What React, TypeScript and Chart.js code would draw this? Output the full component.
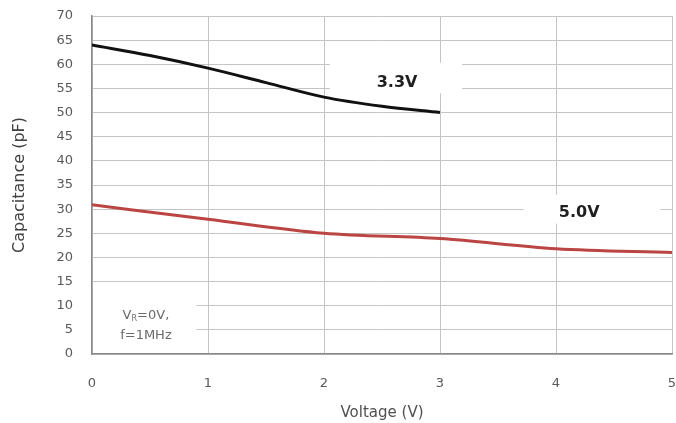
import React, { useEffect, useRef } from "react";
import { Chart, registerables } from "chart.js";

Chart.register(...registerables);

const voltage33 = [0, 0.5, 1, 1.5, 2, 2.5, 3];
const cap33 = [64, 61.8, 59.2, 56.2, 53.2, 51.3, 50];
const voltage50 = [0, 1, 2, 3, 4, 5];
const cap50 = [30.9, 27.9, 25, 23.9, 21.8, 21];
const xTicks = [0, 1, 2, 3, 4, 5];
const yTicks = [0, 5, 10, 15, 20, 25, 30, 35, 40, 45, 50, 55, 60, 65, 70];

const seriesNames = ["3.3V", "5.0V"];
const noteLines = ["V|R|=0V,", "f=1MHz"];

const FONT = "'DejaVu Sans', Verdana, sans-serif";

const boxesPlugin = {
  id: "boxes",
  beforeDatasetsDraw(chart: any) {
    const { ctx, scales, chartArea } = chart;
    const xs = scales.x;
    const ys = scales.y;
    ctx.save();
    ctx.fillStyle = "#ffffff";
    const boxes = [
      [2.05, 3.19, 60.3, 54.0],
      [3.72, 4.9, 33.0, 27.0],
    ];
    for (const b of boxes) {
      const x1 = xs.getPixelForValue(b[0]);
      const x2 = xs.getPixelForValue(b[1]);
      const y1 = ys.getPixelForValue(b[2]);
      const y2 = ys.getPixelForValue(b[3]);
      ctx.fillRect(x1, y1, x2 - x1, y2 - y1);
    }
    const nx2 = xs.getPixelForValue(0.9);
    const ny1 = ys.getPixelForValue(11.5);
    ctx.fillRect(chartArea.left + 1, ny1, nx2 - chartArea.left - 1, chartArea.bottom - 1 - ny1);
    ctx.restore();
  },
  afterDatasetsDraw(chart: any) {
    const { ctx, scales } = chart;
    const xs = scales.x;
    const ys = scales.y;
    ctx.save();
    ctx.font = `bold 16px ${FONT}`;
    ctx.fillStyle = "#1f1f1f";
    ctx.textAlign = "center";
    ctx.textBaseline = "middle";
    ctx.fillText(seriesNames[0], xs.getPixelForValue(2.63), ys.getPixelForValue(56.1));
    ctx.fillText(seriesNames[1], xs.getPixelForValue(4.2), ys.getPixelForValue(29.2));

    const cx = xs.getPixelForValue(0.465);
    ctx.fillStyle = "#6a6a6a";
    const y1 = ys.getPixelForValue(7.9);
    const y2 = ys.getPixelForValue(3.9);
    const parts = noteLines[0].split("|");
    const big = `13px ${FONT}`;
    const small = `8px ${FONT}`;
    ctx.font = big;
    const w0 = ctx.measureText(parts[0]).width;
    const w2 = ctx.measureText(parts[2]).width;
    ctx.font = small;
    const w1 = ctx.measureText(parts[1]).width;
    let sx = cx - (w0 + w1 + w2) / 2;
    ctx.textAlign = "left";
    ctx.font = big;
    ctx.fillText(parts[0], sx, y1);
    sx += w0;
    ctx.font = small;
    ctx.fillText(parts[1], sx, y1 + 3);
    sx += w1;
    ctx.font = big;
    ctx.fillText(parts[2], sx, y1);
    ctx.textAlign = "center";
    ctx.fillText(noteLines[1], cx, y2);
    ctx.restore();
  },
};

export default function App() {
  const ref = useRef<HTMLCanvasElement | null>(null);
  useEffect(() => {
    document.body.style.margin = "0";
    const c = ref.current!;
    const chart = new Chart(c, {
      type: "line",
      data: {
        datasets: [
          {
            label: seriesNames[0],
            data: voltage33.map((v, i) => ({ x: v, y: cap33[i] })),
            borderColor: "#111111",
            borderWidth: 3,
            pointRadius: 0,
            cubicInterpolationMode: "monotone",
          },
          {
            label: seriesNames[1],
            data: voltage50.map((v, i) => ({ x: v, y: cap50[i] })),
            borderColor: "#bb4542",
            borderWidth: 3,
            pointRadius: 0,
            cubicInterpolationMode: "monotone",
          },
        ],
      },
      options: {
        responsive: false,
        animation: false,
        layout: { padding: { top: 16, right: 4, left: 0, bottom: 0 } },
        plugins: { legend: { display: false }, tooltip: { enabled: false } },
        scales: {
          x: {
            type: "linear",
            min: 0,
            max: 5,
            afterBuildTicks: (s: any) => {
              s.ticks = xTicks.map((v) => ({ value: v }));
            },
            afterFit: (s: any) => {
              s.height = 69;
              s.paddingLeft = 0;
              s.paddingRight = 0;
            },
            ticks: {
              padding: 22,
              color: "#595959",
              font: { family: FONT, size: 13 },
              maxRotation: 0,
            },
            grid: { color: "#c4c4c4", lineWidth: 1, drawTicks: false },
            border: { color: "#8a8a8a", width: 1.5 },
            title: {
              display: true,
              text: "Voltage (V)",
              color: "#505050",
              font: { family: FONT, size: 15 },
              padding: { top: 4, bottom: 1 },
            },
          },
          y: {
            type: "linear",
            min: 0,
            max: 70,
            afterBuildTicks: (s: any) => {
              s.ticks = yTicks.map((v) => ({ value: v }));
            },
            afterFit: (s: any) => {
              s.width = 92;
              s.paddingTop = 0;
              s.paddingBottom = 0;
            },
            ticks: {
              padding: 19,
              color: "#595959",
              font: { family: FONT, size: 13 },
            },
            grid: { color: "#c4c4c4", lineWidth: 1, drawTicks: false },
            border: { color: "#8a8a8a", width: 1.5 },
            title: {
              display: true,
              text: "Capacitance (pF)",
              color: "#404040",
              font: { family: FONT, size: 16 },
              padding: { top: 10, bottom: 4 },
            },
          },
        },
      },
      plugins: [boxesPlugin],
    });
    return () => chart.destroy();
  }, []);
  return <canvas ref={ref} width={676} height={423} style={{ display: "block" }} />;
}
